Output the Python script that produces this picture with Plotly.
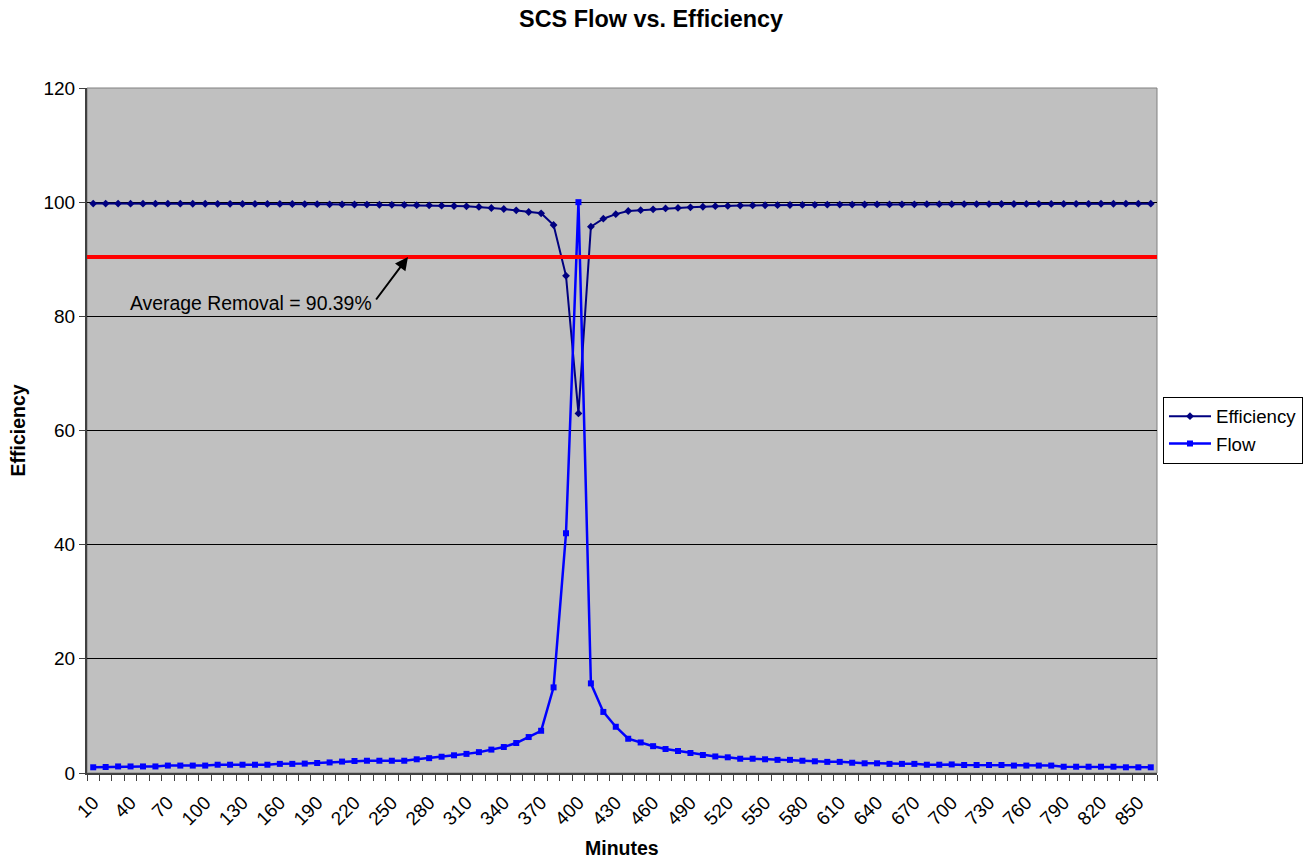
import plotly.graph_objects as go

# Minutes from 10 to 860, one sample every 10 minutes
minutes = [10, 20, 30, 40, 50, 60, 70, 80, 90, 100,
           110, 120, 130, 140, 150, 160, 170, 180, 190, 200,
           210, 220, 230, 240, 250, 260, 270, 280, 290, 300,
           310, 320, 330, 340, 350, 360, 370, 380, 390, 400,
           410, 420, 430, 440, 450, 460, 470, 480, 490, 500,
           510, 520, 530, 540, 550, 560, 570, 580, 590, 600,
           610, 620, 630, 640, 650, 660, 670, 680, 690, 700,
           710, 720, 730, 740, 750, 760, 770, 780, 790, 800,
           810, 820, 830, 840, 850, 860]

efficiency = [99.75, 99.75, 99.75, 99.74, 99.74, 99.74, 99.73, 99.73, 99.72, 99.72,
              99.71, 99.71, 99.70, 99.70, 99.69, 99.69, 99.68, 99.67, 99.65, 99.63,
              99.61, 99.59, 99.57, 99.55, 99.53, 99.51, 99.48, 99.44, 99.39, 99.33,
              99.27, 99.16, 98.98, 98.80, 98.57, 98.28, 98.05, 96.0, 87.1, 63.0,
              95.7, 97.1, 97.9, 98.45, 98.6, 98.75, 98.9, 99.0, 99.1, 99.2,
              99.3, 99.35, 99.4, 99.43, 99.46, 99.48, 99.5, 99.52, 99.54, 99.56,
              99.57, 99.58, 99.59, 99.6, 99.61, 99.62, 99.63, 99.64, 99.65, 99.65,
              99.66, 99.67, 99.67, 99.68, 99.68, 99.69, 99.69, 99.7, 99.7, 99.71,
              99.71, 99.72, 99.72, 99.73, 99.73, 99.74]

flow = [1.0, 1.05, 1.15, 1.15, 1.15, 1.15, 1.3, 1.3, 1.3, 1.3,
        1.45, 1.45, 1.45, 1.45, 1.45, 1.6, 1.6, 1.65, 1.75, 1.85,
        2.0, 2.1, 2.15, 2.15, 2.15, 2.15, 2.4, 2.6, 2.85, 3.1,
        3.35, 3.65, 4.1, 4.55, 5.25, 6.3, 7.4, 15.0, 42.0, 100.0,
        15.7, 10.7, 8.1, 6.0, 5.35, 4.7, 4.2, 3.85, 3.5, 3.15,
        2.9, 2.75, 2.5, 2.5, 2.4, 2.3, 2.3, 2.15, 2.05, 1.95,
        1.95, 1.8, 1.7, 1.7, 1.6, 1.6, 1.6, 1.45, 1.45, 1.5,
        1.4, 1.4, 1.4, 1.4, 1.3, 1.3, 1.3, 1.3, 1.1, 1.1,
        1.1, 1.1, 1.1, 1.0, 1.0, 1.0]

x_tick_labels = [10, 40, 70, 100, 130, 160, 190, 220, 250, 280,
                 310, 340, 370, 400, 430, 460, 490, 520, 550, 580,
                 610, 640, 670, 700, 730, 760, 790, 820, 850]
y_ticks = [0, 20, 40, 60, 80, 100, 120]

avg_removal = 90.39

FONT = "Arial, Liberation Sans, sans-serif"
TICK_FS = 19

fig = go.Figure()

fig.add_trace(go.Scatter(
    x=minutes, y=efficiency, name="Efficiency", mode="lines+markers",
    line=dict(color="#000080", width=2),
    marker=dict(symbol="diamond", size=6, color="#000080"),
))
fig.add_trace(go.Scatter(
    x=minutes, y=flow, name="Flow", mode="lines+markers",
    line=dict(color="#0000FF", width=2.5),
    marker=dict(symbol="square", size=6, color="#0000FF"),
))

# plot-area border
fig.add_shape(type="rect", xref="paper", yref="paper", x0=0, x1=1, y0=0, y1=1,
              line=dict(color="#808080", width=1), layer="below")

# average removal line
fig.add_shape(type="line", xref="paper", yref="y", x0=0, x1=1,
              y0=avg_removal, y1=avg_removal,
              line=dict(color="#FF0000", width=4))

fig.add_annotation(
    x=263, y=avg_removal, xref="x", yref="y",
    ax=-33, ay=44, axref="pixel", ayref="pixel",
    text="", showarrow=True, arrowhead=2, arrowsize=1.3, arrowwidth=2,
    arrowcolor="#000000", standoff=0,
)
fig.add_annotation(
    x=0.2685, y=82.3, xref="paper", yref="y",
    xanchor="right", yanchor="middle",
    text=f"Average Removal = {avg_removal:.2f}%", showarrow=False,
    font=dict(family=FONT, size=19.4, color="#000000"),
)

# axis titles
fig.add_annotation(
    x=0.5, y=-0.1095, xref="paper", yref="paper",
    xanchor="center", yanchor="middle", text="Minutes", showarrow=False,
    font=dict(family=FONT, size=19.5, color="#000000", weight="bold"),
)
fig.add_annotation(
    x=-0.0645, y=0.5, xref="paper", yref="paper",
    xanchor="center", yanchor="middle", text="Efficiency", showarrow=False,
    textangle=-90,
    font=dict(family=FONT, size=19.5, color="#000000", weight="bold"),
)

fig.update_layout(
    width=1310, height=860, autosize=False,
    margin=dict(l=87, r=153, t=88, b=87, autoexpand=False),
    paper_bgcolor="#FFFFFF", plot_bgcolor="#C0C0C0",
    font=dict(family=FONT, size=18.7, color="#000000"),
    title=dict(text="SCS Flow vs. Efficiency", x=0.497, xref="container",
               xanchor="center", y=1 - 19 / 860, yref="container", yanchor="middle",
               font=dict(family=FONT, size=23.4, color="#000000", weight="bold")),
    showlegend=True,
    legend=dict(x=1.0056, y=0.5007, xanchor="left", yanchor="middle",
                bgcolor="#FFFFFF", bordercolor="#000000", borderwidth=1,
                font=dict(family=FONT, size=18.7, color="#000000"),
                itemwidth=42, tracegroupgap=0),
)

fig.update_xaxes(
    range=[5, 865], tickmode="array", tickvals=x_tick_labels,
    ticktext=[str(v) for v in x_tick_labels], tickangle=-45,
    ticks="", showgrid=False, zeroline=False, ticklabelstandoff=9,
    showline=True, linecolor="#404040", linewidth=2,
    tickfont=dict(family=FONT, size=TICK_FS, color="#000000"),
    minor=dict(ticks="outside", tick0=5, dtick=10, ticklen=6,
               tickcolor="#404040", tickwidth=1, showgrid=False),
)
fig.update_yaxes(
    range=[0, 120], tickmode="array", tickvals=y_ticks,
    ticks="outside", ticklen=6, tickcolor="#404040", tickwidth=1,
    showgrid=True, gridcolor="#000000", gridwidth=1, zeroline=False,
    showline=True, linecolor="#404040", linewidth=2,
    tickfont=dict(family=FONT, size=TICK_FS, color="#000000"),
)

fig.write_html("out.html")
